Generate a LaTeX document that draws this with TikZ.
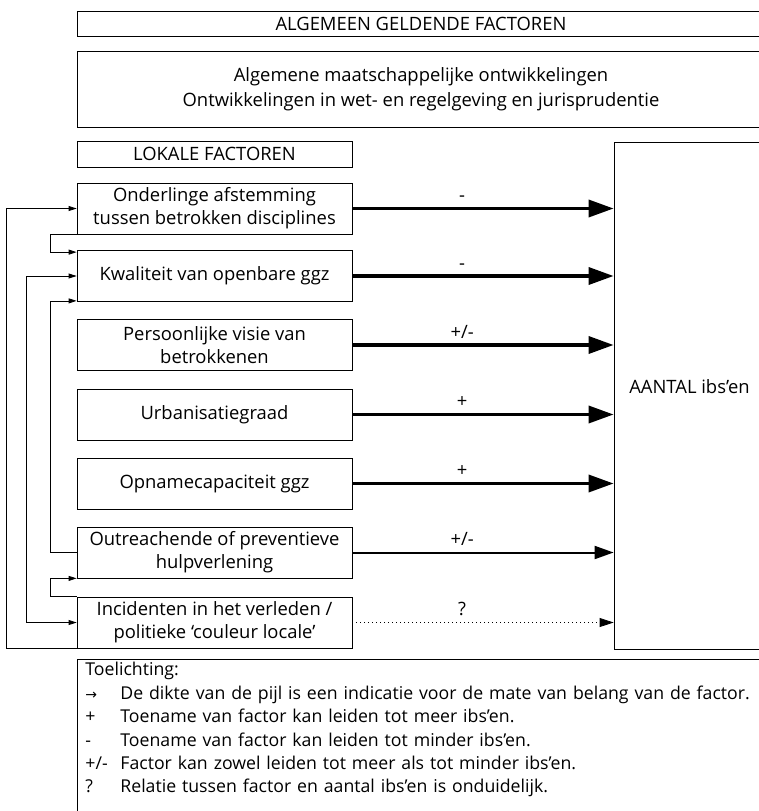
\documentclass[tikz,border=0pt]{standalone}
\usepackage{fontspec}
\setmainfont{Open Sans}[Ligatures=NoCommon]
\newfontfamily\arrowfont{DejaVu Sans}
\usetikzlibrary{arrows.meta}

\tikzstyle{factorNode}=[draw, rectangle, minimum width=275pt, minimum height=51pt, inner sep=0pt, align=center]
\tikzstyle{headerNode}=[draw, rectangle, minimum height=25pt, inner sep=0pt, align=center]
\tikzstyle{strongInfluence}=[-{Triangle[length=25pt,width=17pt]}, line width=3.5pt]
\tikzstyle{mediumInfluence}=[-{Triangle[length=19pt,width=13pt]}, line width=2pt]
\tikzstyle{unknownInfluence}=[-{Triangle[length=14pt,width=9pt]}, line width=0.8pt, dash pattern=on 1pt off 3pt]
\tikzstyle{feedback}=[-{Triangle[length=8pt,width=5pt]}, line width=0.8pt]
\tikzstyle{signLabel}=[pos=0.42, anchor=base, yshift=7pt, inner sep=0pt]

\newcommand{\legendsym}[1]{\makebox[35pt][l]{#1}}

\begin{document}
\begin{tikzpicture}[x=1pt, y=-1pt, font=\fontsize{18.4}{23}\selectfont, line width=0.8pt]
		\useasboundingbox (0,0) rectangle (758,811);
		
		\node[headerNode, minimum width=688pt] (general) at (421, 23.5) {ALGEMEEN GELDENDE FACTOREN};
		\node[headerNode, minimum width=688pt, minimum height=76pt, font=\fontsize{18.4}{25}\selectfont] (trends) at (421, 89) {Algemene maatschappelijke ontwikkelingen\\Ontwikkelingen in wet- en regelgeving en jurisprudentie};
		
		\node[headerNode, minimum width=275pt, minimum height=26pt] (local) at (214.5, 154) {LOKALE FACTOREN};
		\node[factorNode] (coord) at (214.5, 208.5) {Onderlinge afstemming\\tussen betrokken disciplines};
		\node[factorNode] (quality) at (214.5, 276) {Kwaliteit van openbare ggz};
		\node[factorNode] (vision) at (214.5, 345) {Persoonlijke visie van\\betrokkenen};
		\node[factorNode] (urban) at (214.5, 414.5) {Urbanisatiegraad};
		\node[factorNode] (capacity) at (214.5, 483.5) {Opnamecapaciteit ggz};
		\node[factorNode] (outreach) at (214.5, 552.5) {Outreachende of preventieve\\hulpverlening};
		\node[factorNode] (incidents) at (214.5, 622.5) {Incidenten in het verleden /\\politieke ‘couleur locale’};
		
		\node[draw, minimum width=151pt, minimum height=507pt, inner sep=0pt] (count) at (689.5, 395.5) {};
		\node (countLabel) at (689.5, 387) {AANTAL ibs’en};
		
		\draw[strongInfluence] (coord.east) -- (coord.east -| count.west) node[signLabel] {-};
		\draw[strongInfluence] (quality.east) -- (quality.east -| count.west) node[signLabel] {-};
		\draw[strongInfluence] (vision.east) -- (vision.east -| count.west) node[signLabel] {+/-};
		\draw[strongInfluence] (urban.east) -- (urban.east -| count.west) node[signLabel] {+};
		\draw[strongInfluence] (capacity.east) -- (capacity.east -| count.west) node[signLabel] {+};
		\draw[mediumInfluence] (outreach.east) -- (outreach.east -| count.west) node[signLabel] {+/-};
		\draw[unknownInfluence] (incidents.east) -- (incidents.east -| count.west) node[signLabel] {?};
		
		\draw[feedback] (incidents.south west) -- ++(-70,0) |- (coord.west);
		\draw[feedback] (coord.south west) -- ++(-26,0) |- ([yshift=-2pt]quality.north west);
		\draw[feedback, {Triangle[length=8pt,width=5pt]}-{Triangle[length=8pt,width=5pt]}] (quality.west) -- ++(-50,0) |- (incidents.west);
		\draw[feedback] (outreach.west) -- ++(-26,0) |- ([yshift=1pt]quality.south west);
		\draw[feedback] (incidents.north west) -- ++(-26,0) |- (outreach.south west);
		
		\node[anchor=north west, text width=700pt, inner xsep=8pt, inner ysep=3pt, align=left, font=\fontsize{17.7}{23.4}\selectfont] (legend) at (77, 659) {Toelichting:\\
			\legendsym{\arrowfont\fontsize{14}{23.4}\selectfont →}De dikte van de pijl is een indicatie voor de mate van belang van de factor.\\
			\legendsym{+}Toename van factor kan leiden tot meer ibs’en.\\
			\legendsym{-}Toename van factor kan leiden tot minder ibs’en.\\
			\legendsym{+/-}Factor kan zowel leiden tot meer als tot minder ibs’en.\\
			\legendsym{?}Relatie tussen factor en aantal ibs’en is onduidelijk.};
		\draw (legend.north west) rectangle ++(688, 180);
\end{tikzpicture}
\end{document}
